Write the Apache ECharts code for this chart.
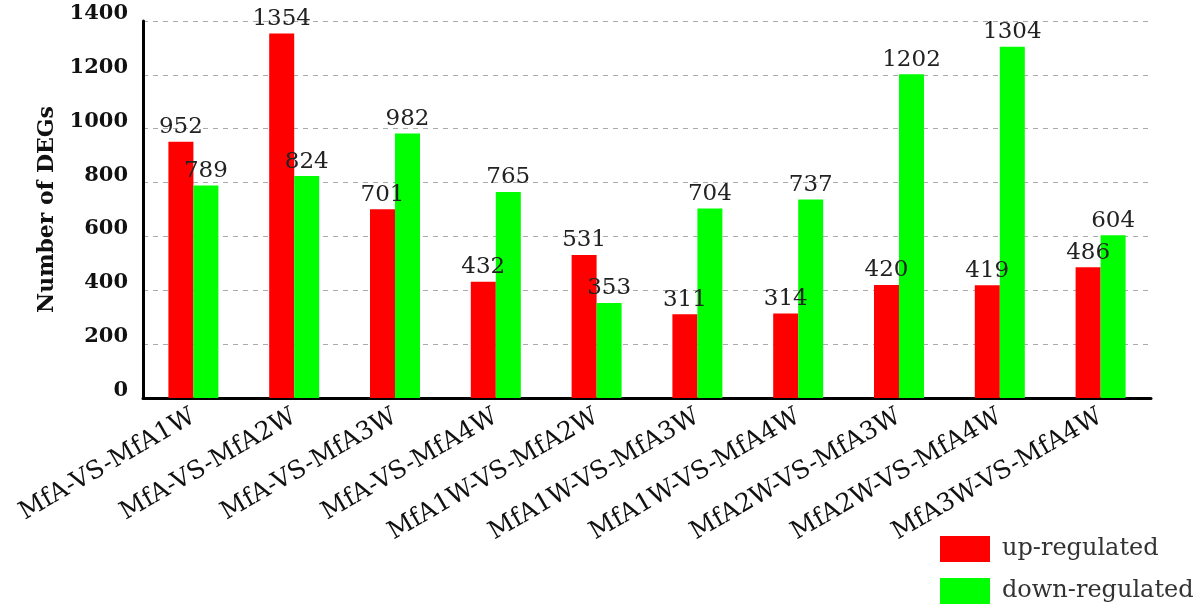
<!DOCTYPE html>
<html>
<head>
<meta charset="utf-8">
<script src="https://cdn.jsdelivr.net/npm/echarts@6/dist/echarts.min.js"></script>
<style>html,body{margin:0;padding:0;background:#fff}#c{width:1200px;height:606px}</style>
</head>
<body>
<div id="c"></div>
<script>
const categories = ['MfA-VS-MfA1W','MfA-VS-MfA2W','MfA-VS-MfA3W','MfA-VS-MfA4W','MfA1W-VS-MfA2W','MfA1W-VS-MfA3W','MfA1W-VS-MfA4W','MfA2W-VS-MfA3W','MfA2W-VS-MfA4W','MfA3W-VS-MfA4W'];
const upRegulated = [952,1354,701,432,531,311,314,420,419,486];
const downRegulated = [789,824,982,765,353,704,737,1202,1304,604];
const yTicks = [0,200,400,600,800,1000,1200,1400];

const FONT = '"DejaVu Serif", serif';
const chart = echarts.init(document.getElementById('c'), null, {renderer:'canvas'});
const labelStyle = {show:true, position:'top', distance:3, color:'#222', fontFamily:FONT, fontSize:23};
chart.setOption({
  animation:false,
  backgroundColor:'#fff',
  grid:{left:143, right:49, top:21, bottom:208, containLabel:false},
  legend:{
    orient:'vertical', left:940, top:536, height:70, padding:0, itemWidth:50, itemHeight:26, itemGap:16,
    icon:'rect',
    textStyle:{fontFamily:FONT, fontSize:24, color:'#333', padding:[0,0,0,7]},
    data:['up-regulated','down-regulated']
  },
  xAxis:{
    type:'category', data:categories,
    axisLine:{lineStyle:{color:'#000', width:3}},
    axisTick:{show:false},
    axisLabel:{rotate:30, margin:17, interval:0, color:'#111', fontFamily:FONT, fontSize:25}
  },
  yAxis:{
    type:'value', min:0, max:1400, interval:200,
    name:'Number of DEGs', nameLocation:'middle', nameGap:85,
    nameTextStyle:{fontFamily:FONT, fontSize:22, fontWeight:'bold', color:'#111'},
    axisLine:{show:true, lineStyle:{color:'#000', width:3}},
    axisTick:{show:false},
    axisLabel:{margin:15, color:'#111', fontFamily:FONT, fontSize:21, fontWeight:'bold', verticalAlign:'bottom', lineHeight:15,
      formatter:v=>yTicks.includes(v)?String(v):''},
    splitLine:{show:true, lineStyle:{color:'#aaa', type:[5,5], width:1}}
  },
  series:[
    {name:'up-regulated', type:'bar', data:upRegulated, barWidth:25, barGap:'0%', itemStyle:{color:'#ff0000'}, label:labelStyle},
    {name:'down-regulated', type:'bar', data:downRegulated, barWidth:25, itemStyle:{color:'#00ff00'}, label:labelStyle}
  ]
});
</script>
</body>
</html>
